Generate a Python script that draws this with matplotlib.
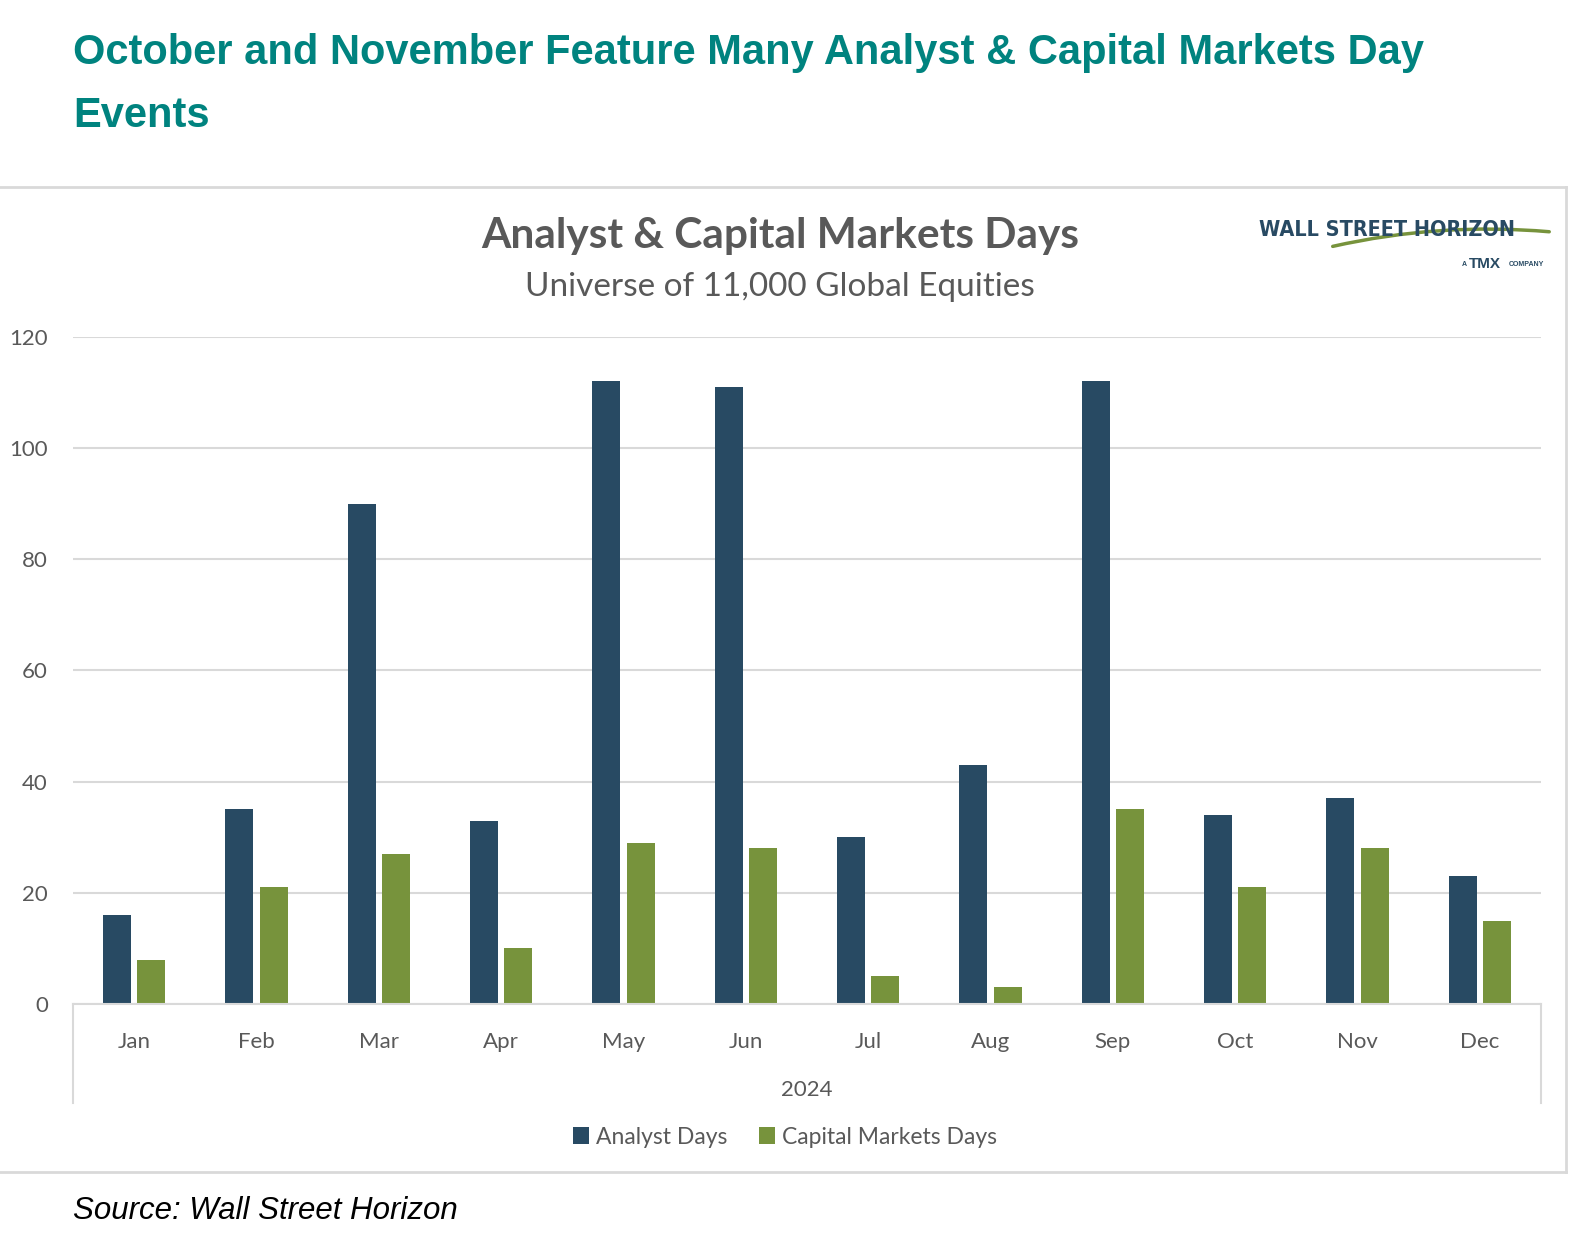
import numpy as np
import matplotlib.pyplot as plt
from matplotlib.lines import Line2D
from matplotlib.patches import FancyArrowPatch

# === dados ===
meses = ["Jan", "Feb", "Mar", "Apr", "May", "Jun", "Jul", "Aug", "Sep", "Oct", "Nov", "Dec"]
analyst_days = [16, 35, 90, 33, 112, 111, 30, 43, 112, 34, 37, 23]
capital_markets_days = [8, 21, 27, 10, 29, 28, 5, 3, 35, 21, 28, 15]
yticks = [0, 20, 40, 60, 80, 100, 120]

cor_analyst = "#284A63"
cor_capital = "#77933C"
cor_titulo = "#00837F"
cor_texto = "#595959"
cor_grade = "#D9D9D9"

fonte = ["Lato", "DejaVu Sans"]

fig = plt.figure(figsize=(15.7, 12.51), dpi=100)
W, H = 1570, 1251

def fx(px):
    return px / W

def fy(py):
    return 1 - py / H

# === titulo da pagina ===
fig.text(fx(73), fy(53), "October and November Feature Many Analyst & Capital Markets Day",
         family="Liberation Sans", weight="bold", fontsize=30, color=cor_titulo, va="center")
fig.text(fx(73), fy(116), "Events",
         family="Liberation Sans", weight="bold", fontsize=30, color=cor_titulo, va="center")
fig.text(fx(73), fy(1211), "Source: Wall Street Horizon",
         family="Liberation Sans", style="italic", fontsize=22.5, color="black", va="center")

# moldura do grafico
for (x0, y0, x1, y1) in [(0, 187, 1566, 187), (1566, 187, 1566, 1172), (0, 1172, 1566, 1172)]:
    fig.add_artist(Line2D([fx(x0), fx(x1)], [fy(y0), fy(y1)], color=cor_grade, lw=2))

# === eixo ===
ax = fig.add_axes([fx(73), fy(1004), fx(1541) - fx(73), fy(337) - fy(1004)])
x = np.arange(len(meses))
largura = 0.23
ax.bar(x - 0.14, analyst_days, largura, color=cor_analyst, label="Analyst Days", zorder=3)
ax.bar(x + 0.14, capital_markets_days, largura, color=cor_capital, label="Capital Markets Days", zorder=3)

ax.set_xlim(-0.5, 11.5)
ax.set_ylim(0, 120)
ax.set_yticks(yticks)
ax.set_yticklabels([str(v) for v in yticks], family=fonte, fontsize=16, color=cor_texto)
ax.set_xticks(x)
ax.set_xticklabels(meses, family=fonte, fontsize=16, color=cor_texto)
ax.tick_params(axis="both", length=0)
ax.tick_params(axis="x", pad=20)
ax.tick_params(axis="y", pad=18)
ax.grid(axis="y", color=cor_grade, lw=1.5, zorder=0)
for s in ["top", "right", "left"]:
    ax.spines[s].set_visible(False)
ax.spines["bottom"].set_color(cor_grade)
ax.spines["bottom"].set_linewidth(1.5)
ax.spines["bottom"].set_zorder(4)
ax.set_xlabel("2024", family=fonte, fontsize=16, color=cor_texto, labelpad=20)

# linhas verticais do eixo de categorias
for px in (73, 1541):
    fig.add_artist(Line2D([fx(px), fx(px)], [fy(1004), fy(1103)], color=cor_grade, lw=1.5))

# titulo do grafico
fig.text(fx(780), fy(236), "Analyst & Capital Markets Days", family=fonte, weight="bold",
         fontsize=30.5, color=cor_texto, ha="center", va="center")
fig.text(fx(780), fy(287), "Universe of 11,000 Global Equities", family=fonte,
         fontsize=24, color=cor_texto, ha="center", va="center")

# legenda
leg = fig.legend(loc="center", bbox_to_anchor=(fx(785), fy(1137)), ncol=2, frameon=False,
                 handlelength=0.7, handleheight=0.7, handletextpad=0.3, columnspacing=1.4,
                 prop={"family": fonte, "size": 16.5})
for t in leg.get_texts():
    t.set_color(cor_texto)

# logo aproximado
fig.text(fx(1259), fy(230), "WALL STREET HORIZON", family="DejaVu Sans", fontstretch="condensed",
         weight="bold", fontsize=15.5, color=cor_analyst, va="center", ha="left")
fig.add_artist(FancyArrowPatch((fx(1330), fy(247)), (fx(1552), fy(232)),
                               connectionstyle="arc3,rad=-0.08", arrowstyle="-",
                               color=cor_capital, lw=2.5, transform=fig.transFigure))
fig.text(fx(1462), fy(265), "A", family="Liberation Sans", weight="bold", fontsize=5, color=cor_analyst, va="center")
fig.text(fx(1469), fy(264), "TMX", family="Liberation Sans", weight="bold", fontsize=11, color=cor_analyst, va="center")
fig.text(fx(1509), fy(265), "COMPANY", family="Liberation Sans", weight="bold", fontsize=5, color=cor_analyst, va="center")

fig.savefig("out.png", dpi=100, facecolor="white")
